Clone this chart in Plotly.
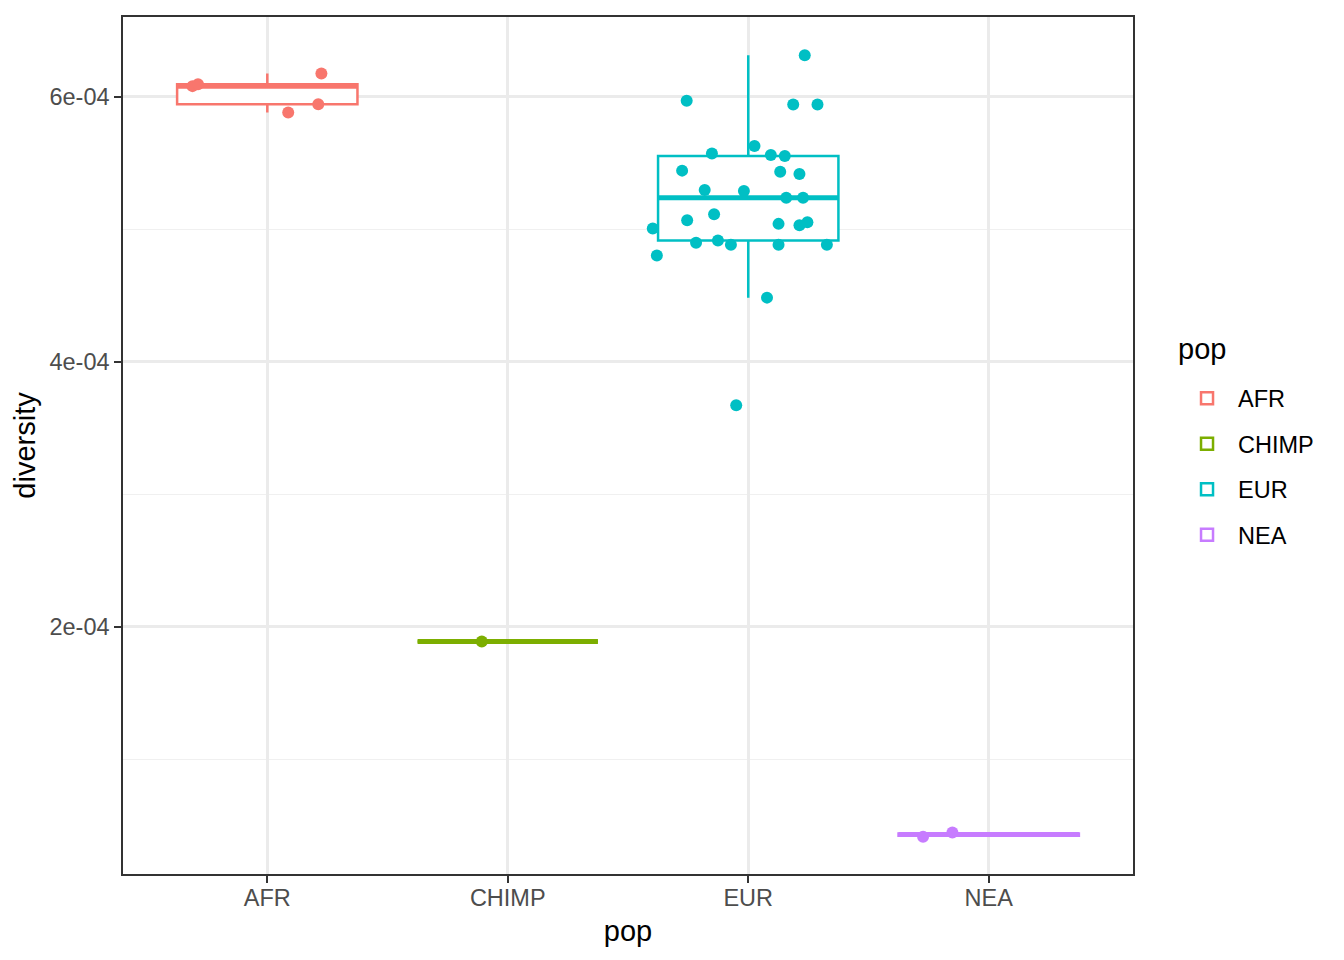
import numpy as np
import plotly.graph_objects as go

categories = ["AFR", "CHIMP", "EUR", "NEA"]
colors = ["#F8766D", "#7CAE00", "#00BFC4", "#C77CFF"]

afr_div = [6.081e-4, 6.096e-4, 6.176e-4, 5.882e-4, 5.945e-4]
afr_jit = [-0.311, -0.288, 0.225, 0.087, 0.212]

chimp_div = [1.887e-4]
chimp_jit = [-0.108]

eur_div = [6.314e-4, 5.970e-4, 5.942e-4, 5.942e-4, 5.629e-4, 5.573e-4, 5.561e-4,
           5.553e-4, 5.443e-4, 5.435e-4, 5.418e-4, 5.297e-4, 5.290e-4, 5.239e-4,
           5.239e-4, 5.113e-4, 5.068e-4, 5.041e-4, 5.053e-4, 5.031e-4, 5.006e-4,
           4.898e-4, 4.915e-4, 4.883e-4, 4.883e-4, 4.883e-4, 4.802e-4, 4.484e-4,
           3.672e-4]
eur_jit = [0.235, -0.256, 0.187, 0.288, 0.026, -0.151, 0.094, 0.152, -0.275, 0.133,
           0.213, -0.181, -0.018, 0.158, 0.228, -0.142, -0.254, 0.126, 0.246, 0.213,
           -0.397, -0.217, -0.126, -0.072, 0.126, 0.327, -0.380, 0.078, -0.050]

nea_div = [4.13e-5, 4.46e-5]
nea_jit = [-0.273, -0.151]

y_tickvals = [2e-4, 4e-4, 6e-4]
y_ticktext = ["2e-04", "4e-04", "6e-04"]
y_minor = [1e-4, 3e-4, 5e-4]

groups = [afr_div, chimp_div, eur_div, nea_div]
jitters = [afr_jit, chimp_jit, eur_jit, nea_jit]

BOX_W = 0.75
fig = go.Figure()

for i, (name, col, vals, jit) in enumerate(zip(categories, colors, groups, jitters)):
    v = np.array(vals)
    q1, med, q3 = np.percentile(v, [25, 50, 75])
    iqr = q3 - q1
    inside = v[(v >= q1 - 1.5 * iqr) & (v <= q3 + 1.5 * iqr)]
    lo, hi = inside.min(), inside.max()
    fig.add_trace(go.Box(
        x=[i], q1=[q1], median=[med], q3=[q3], lowerfence=[lo], upperfence=[hi],
        name=name, width=BOX_W, whiskerwidth=0, fillcolor="white",
        line=dict(color=col, width=2.5), boxpoints=False, legendgroup=name,
        hoverinfo="skip",
    ))
    fig.add_trace(go.Scatter(
        x=[i - BOX_W / 2, i + BOX_W / 2], y=[med, med], mode="lines",
        line=dict(color=col, width=5), showlegend=False, legendgroup=name,
        hoverinfo="skip",
    ))
    fig.add_trace(go.Scatter(
        x=[i + j for j in jit], y=vals, mode="markers",
        marker=dict(color=col, size=12), showlegend=False, legendgroup=name,
    ))

fig.update_layout(
    width=1344, height=960,
    margin=dict(l=115, r=219, t=7, b=94),
    paper_bgcolor="white", plot_bgcolor="white",
    font=dict(family="Liberation Sans, Arial, sans-serif", color="black"),
    legend=dict(
        font=dict(size=23.5), x=1.0426, xanchor="left", y=0.475, yanchor="middle",
        traceorder="grouped", tracegroupgap=12, itemwidth=52,
        bgcolor="rgba(0,0,0,0)",
    ),
    showlegend=True,
    annotations=[dict(
        text="pop", xref="paper", yref="paper", x=1.0428, y=(874 - 348) / 859,
        xanchor="left", yanchor="middle", showarrow=False,
        font=dict(size=29, color="black"),
    )],
)
fig.update_xaxes(
    range=[-0.6, 3.6], tickvals=[0, 1, 2, 3], ticktext=categories,
    showgrid=True, gridcolor="#EBEBEB", gridwidth=2.5, zeroline=False,
    showline=True, mirror=True, linecolor="#333333", linewidth=1.5,
    ticks="outside", ticklen=7, tickcolor="#333333", tickwidth=2,
    ticklabelstandoff=-5,
    tickfont=dict(size=23.5, color="#4D4D4D"),
    title=dict(text="pop", font=dict(size=29), standoff=11),
)
fig.update_yaxes(
    range=[1.32e-5, 6.603e-4], tickvals=y_tickvals, ticktext=y_ticktext,
    showgrid=True, gridcolor="#EBEBEB", gridwidth=2.5, zeroline=False,
    showline=True, mirror=True, linecolor="#333333", linewidth=1.5,
    ticks="outside", ticklen=7, tickcolor="#333333", tickwidth=2,
    tickfont=dict(size=23.5, color="#4D4D4D"),
    minor=dict(tickvals=y_minor, showgrid=True, gridcolor="#F0F0F0",
               gridwidth=1.3, ticks=""),
    title=dict(text="diversity", font=dict(size=29), standoff=5),
)

fig.write_html("out.html")
